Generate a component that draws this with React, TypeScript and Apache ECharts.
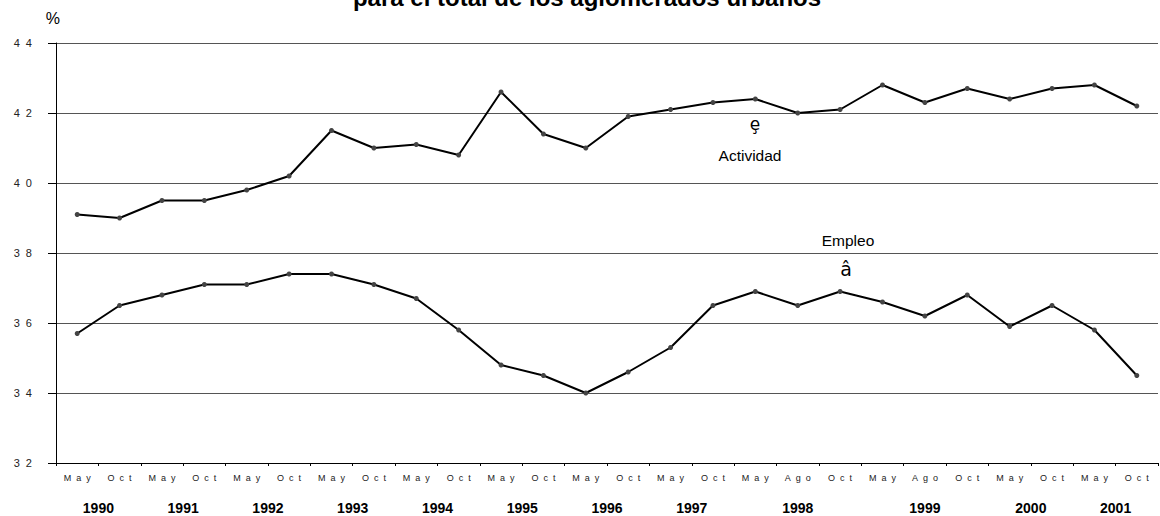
import React, { useEffect, useRef } from "react";
import * as echarts from "echarts";

const months = [
  "May", "Oct", "May", "Oct", "May", "Oct", "May", "Oct",
  "May", "Oct", "May", "Oct", "May", "Oct", "May", "Oct",
  "May", "Ago", "Oct", "May", "Ago", "Oct", "May", "Oct", "May", "Oct",
];

const actividad = [
  39.1, 39.0, 39.5, 39.5, 39.8, 40.2, 41.5, 41.0, 41.1, 40.8,
  42.6, 41.4, 41.0, 41.9, 42.1, 42.3, 42.4, 42.0, 42.1, 42.8,
  42.3, 42.7, 42.4, 42.7, 42.8, 42.2,
];

const empleo = [
  35.7, 36.5, 36.8, 37.1, 37.1, 37.4, 37.4, 37.1, 36.7, 35.8,
  34.8, 34.5, 34.0, 34.6, 35.3, 36.5, 36.9, 36.5, 36.9, 36.6,
  36.2, 36.8, 35.9, 36.5, 35.8, 34.5,
];

const yearLabels = ["1990", "1991", "1992", "1993", "1994", "1995", "1996", "1997", "1998", "1999", "2000", "2001"];
// position of each year label, in category units along the axis
const yearPositions = [1, 3, 5, 7, 9, 11, 13, 15, 17.5, 20.5, 23, 25];

const spaced = (s: string, sep: string) => s.split("").join(sep);

export default function App() {
  const ref = useRef<HTMLDivElement>(null);
  useEffect(() => {
    if (!ref.current) return;
    const chart = echarts.init(ref.current, null, { renderer: "svg" });
    const font = "Liberation Sans, Arial, sans-serif";
    chart.setOption({
      animation: false,
      backgroundColor: "#fff",
      textStyle: { fontFamily: font },
      grid: { left: 56, top: 43, right: 2, bottom: 53, containLabel: false },
      xAxis: [
        {
          type: "category",
          data: months,
          boundaryGap: true,
          axisLine: { lineStyle: { color: "#000", width: 1 } },
          axisTick: { show: true, length: 3, lineStyle: { color: "#000" } },
          axisLabel: {
            interval: 0,
            margin: 10,
            fontSize: 9,
            color: "#222",
            fontFamily: font,
            formatter: (v: string) => spaced(v, "\u00a0\u00a0"),
          },
          splitLine: { show: false },
        },
        {
          type: "value",
          min: 0,
          max: months.length,
          position: "bottom",
          axisLine: { show: false },
          axisTick: { show: false },
          splitLine: { show: false },
          axisLabel: {
            customValues: yearPositions,
            margin: 38,
            fontSize: 14,
            fontWeight: "bold",
            color: "#000",
            fontFamily: font,
            formatter: (v: number) => {
              const i = yearPositions.indexOf(v);
              return i >= 0 ? yearLabels[i] : "";
            },
          },
        },
      ],
      yAxis: {
        type: "value",
        min: 32,
        max: 44,
        interval: 2,
        name: "%",
        nameLocation: "end",
        nameGap: 17,
        nameTextStyle: { fontSize: 16, color: "#000", align: "right", padding: [0, -4, 0, 0] },
        axisLine: { show: true, lineStyle: { color: "#000", width: 1 } },
        axisTick: { show: true, inside: false, length: 8, lineStyle: { color: "#000" } },
        axisLabel: {
          margin: 24,
          fontSize: 11,
          color: "#222",
          fontFamily: font,
          formatter: (v: number) => spaced(String(v), "\u00a0\u00a0"),
        },
        splitLine: { show: true, lineStyle: { color: "#555", width: 1 } },
      },
      series: [
        {
          name: "Actividad",
          type: "line",
          data: actividad,
          xAxisIndex: 0,
          symbol: "circle",
          symbolSize: 5,
          lineStyle: { color: "#000", width: 2 },
          itemStyle: { color: "#444" },
        },
        {
          name: "Empleo",
          type: "line",
          data: empleo,
          xAxisIndex: 0,
          symbol: "circle",
          symbolSize: 5,
          lineStyle: { color: "#000", width: 2 },
          itemStyle: { color: "#444" },
        },
      ],
      graphic: [
        {
          type: "text",
          x: 587,
          y: 9,
          style: {
            text: "para el total de los aglomerados urbanos",
            fontSize: 24,
            fontWeight: "bold",
            fontFamily: font,
            fill: "#000",
            align: "center",
            verticalAlign: "bottom",
          },
        },
        {
          type: "text",
          x: 755,
          y: 124,
          style: { text: "ȩ", fontSize: 17, fontFamily: "DejaVu Sans", fill: "#000", align: "center", verticalAlign: "middle" },
        },
        {
          type: "text",
          x: 750,
          y: 155,
          style: { text: "Actividad", fontSize: 15.5, fontFamily: font, fill: "#000", align: "center", verticalAlign: "middle" },
        },
        {
          type: "text",
          x: 848,
          y: 240,
          style: { text: "Empleo", fontSize: 15.5, fontFamily: font, fill: "#000", align: "center", verticalAlign: "middle" },
        },
        {
          type: "text",
          x: 846,
          y: 269,
          style: { text: "â", fontSize: 19, fontFamily: "DejaVu Sans", fill: "#000", align: "center", verticalAlign: "middle" },
        },
      ],
    });
    return () => chart.dispose();
  }, []);
  return (
    <div
      ref={ref}
      style={{ position: "absolute", left: 0, top: 0, width: 1160, height: 516 }}
    />
  );
}
